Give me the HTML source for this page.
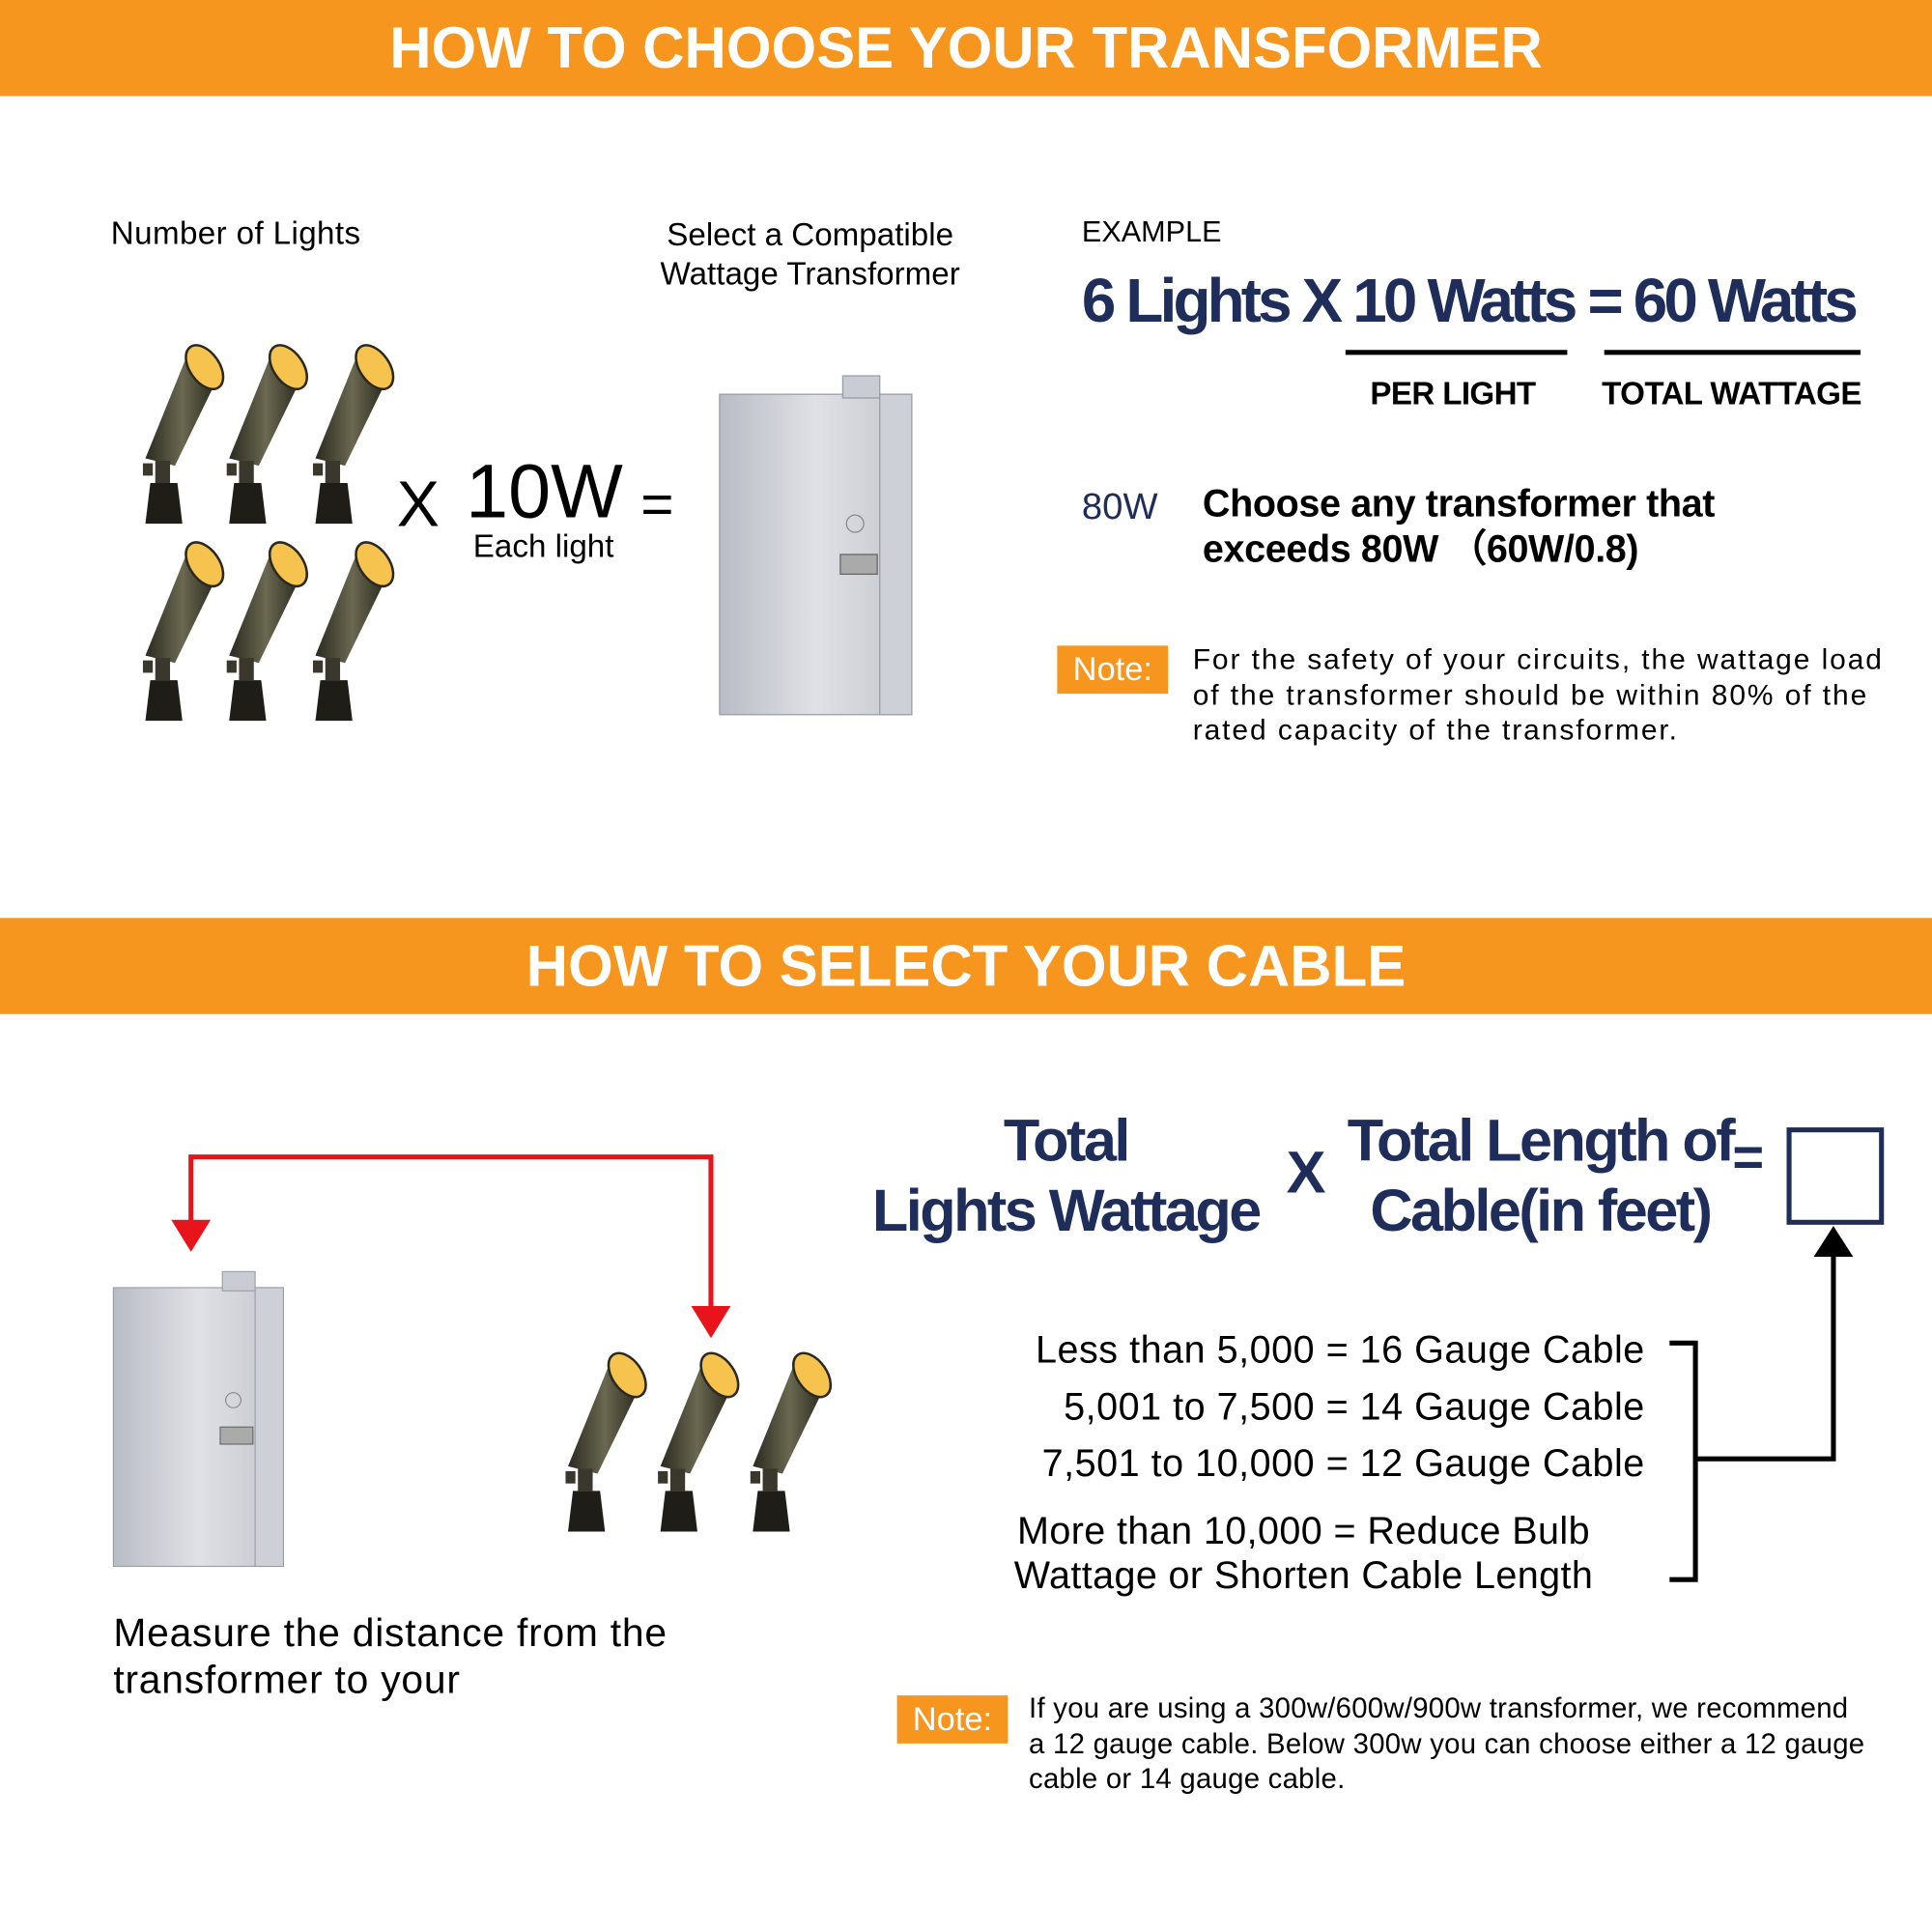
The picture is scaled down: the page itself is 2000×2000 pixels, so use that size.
<!DOCTYPE html>
<html><head><meta charset="utf-8"><style>
html,body{margin:0;padding:0;background:#fff;}
body{width:2000px;height:2000px;overflow:hidden;position:relative;}
#c{position:absolute;left:0;top:0;width:1568px;height:1568px;transform:scale(1.27551);transform-origin:0 0;font-family:"Liberation Sans",sans-serif;}
.a{position:absolute;white-space:nowrap;}
.ban{position:absolute;left:0;width:1568px;height:78px;background:#F7961E;color:#fff;font-weight:bold;font-size:47px;text-align:center;line-height:78px;}
.n{color:#1F2D5A;font-weight:bold;}
.note{position:absolute;width:90px;height:39px;background:#F7961E;color:#fff;font-size:27px;line-height:39px;text-align:center;}
</style></head><body><div id="c">
<div class="ban" style="top:0"><span style="display:inline-block;">HOW TO CHOOSE YOUR TRANSFORMER</span></div>
<div class="ban" style="top:745px"><span style="display:inline-block;">HOW TO SELECT YOUR CABLE</span></div>

<svg class="a" style="left:0;top:0" width="1568" height="1568">
<defs>
<linearGradient id="bd" x1="0" x2="1"><stop offset="0" stop-color="#2b2a20"/><stop offset="0.5" stop-color="#6a6850"/><stop offset="1" stop-color="#24231a"/></linearGradient>
<linearGradient id="sv" x1="0" x2="1"><stop offset="0" stop-color="#b9bcc4"/><stop offset="0.5" stop-color="#dfe1e6"/><stop offset="1" stop-color="#c3c6cc"/></linearGradient>
<g id="L">
<polygon points="6,92 30,98 66,24 40,8" fill="url(#bd)"/>
<ellipse cx="54" cy="18" rx="12" ry="20" transform="rotate(-35 54 18)" fill="#F6C44E" stroke="#2a2a20" stroke-width="2"/>
<rect x="14" y="94" width="12" height="18" fill="#3a382c"/>
<rect x="4" y="96" width="8" height="10" fill="#3a382c"/>
<polygon points="10,112 32,112 36,145 6,145" fill="#1e1d18"/>
</g>
<g id="T">
<rect x="0" y="15" width="156" height="260" fill="url(#sv)" stroke="#9a9da4"/>
<rect x="100" y="0" width="30" height="18" fill="#c9ccd2" stroke="#9a9da4"/>
<rect x="130" y="15" width="26" height="260" fill="#cdd0d6" stroke="#9a9da4"/>
<circle cx="110" cy="120" r="7" fill="none" stroke="#888"/>
<rect x="98" y="145" width="30" height="16" fill="#aaa" stroke="#666"/>
</g>
</defs>
<use href="#L" x="112" y="280"/><use href="#L" x="180" y="280"/><use href="#L" x="250" y="280"/>
<use href="#L" x="112" y="440"/><use href="#L" x="180" y="440"/><use href="#L" x="250" y="440"/>
<use href="#T" x="584" y="305"/>
<use href="#L" x="455" y="1098"/><use href="#L" x="530" y="1098"/><use href="#L" x="605" y="1098"/>
<g transform="translate(92 1032) scale(0.885 0.87)"><use href="#T"/></g>
<line x1="1092" y1="286" x2="1272" y2="286" stroke="#000" stroke-width="4"/>
<line x1="1302" y1="286" x2="1510" y2="286" stroke="#000" stroke-width="4"/>
<polyline points="155,995 155,939 577,939 577,1065" fill="none" stroke="#E8141B" stroke-width="4"/>
<polygon points="139,990 171,990 155,1016" fill="#E8141B"/>
<polygon points="561,1060 593,1060 577,1086" fill="#E8141B"/>
<rect x="1452" y="917" width="75" height="75" fill="none" stroke="#1F2D5A" stroke-width="4"/>
<polyline points="1355,1090 1376,1090 1376,1282 1355,1282" fill="none" stroke="#000" stroke-width="4"/>
<polyline points="1376,1184 1488,1184 1488,1015" fill="none" stroke="#000" stroke-width="4"/>
<polygon points="1472,1020 1504,1020 1488,995" fill="#000"/>
</svg>

<div class="a" style="left:90px;top:174px;font-size:26px;letter-spacing:0.3px;">Number of Lights</div>
<div class="a" style="left:520px;top:174px;width:275px;text-align:center;font-size:26px;line-height:32px;white-space:normal;">Select a Compatible Wattage Transformer</div>
<div class="a" style="left:878px;top:175px;font-size:24px;">EXAMPLE</div>
<div class="a n" style="left:878px;top:215px;font-size:50px;letter-spacing:-3px;">6 Lights X 10 Watts = 60 Watts</div>
<div class="a" style="left:1112px;top:304px;font-size:26px;font-weight:bold;letter-spacing:-0.5px;">PER LIGHT</div>
<div class="a" style="left:1300px;top:304px;font-size:26px;font-weight:bold;letter-spacing:-0.5px;">TOTAL WATTAGE</div>
<div class="a" style="left:878px;top:395px;font-size:30px;color:#1F2D5A;">80W</div>
<div class="a" style="left:976px;top:390px;font-size:31px;font-weight:bold;line-height:37px;letter-spacing:-0.3px;">Choose any transformer that<br>exceeds 80W （60W/0.8)</div>
<div class="note" style="left:858px;top:524px;">Note:</div>
<div class="a" style="left:968px;top:521px;font-size:23.5px;line-height:28.5px;letter-spacing:1.5px;">For the safety of your circuits, the wattage load<br>of the transformer should be within 80% of the<br>rated capacity of the transformer.</div>
<div class="a" style="left:322px;top:380px;font-size:52px;">X</div>
<div class="a" style="left:378px;top:364px;font-size:62px;">10W</div>
<div class="a" style="left:384px;top:428px;font-size:26px;">Each light</div>
<div class="a" style="left:520px;top:382px;font-size:46px;">=</div>

<div class="a n" style="left:700px;top:898px;width:330px;text-align:center;font-size:48px;line-height:57px;letter-spacing:-2px;white-space:normal;">Total<br>Lights Wattage</div>
<div class="a n" style="left:1044px;top:925px;font-size:48px;">X</div>
<div class="a n" style="left:1080px;top:898px;width:340px;text-align:center;font-size:48px;line-height:57px;letter-spacing:-2px;white-space:normal;">Total Length of<br>Cable(in feet)</div>
<div class="a n" style="left:1406px;top:915px;font-size:44px;">=</div>
<div class="a" style="left:780px;top:1073px;width:555px;text-align:right;font-size:31px;line-height:46px;letter-spacing:0.4px;font-weight:500;">Less than 5,000 = 16 Gauge Cable<br>5,001 to 7,500 = 14 Gauge Cable<br>7,501 to 10,000 = 12 Gauge Cable</div>
<div class="a" style="left:790px;top:1225px;width:536px;text-align:center;font-size:31px;line-height:36px;letter-spacing:0.3px;">More than 10,000 = Reduce Bulb<br>Wattage or Shorten Cable Length</div>
<div class="a" style="left:92px;top:1306px;font-size:32px;line-height:38px;letter-spacing:0.6px;">Measure the distance from the<br>transformer to your</div>
<div class="note" style="left:728px;top:1376px;">Note:</div>
<div class="a" style="left:835px;top:1372px;font-size:23px;line-height:28.5px;letter-spacing:0.2px;">If you are using a 300w/600w/900w transformer, we recommend<br>a 12 gauge cable. Below 300w you can choose either a 12 gauge<br>cable or 14 gauge cable.</div>
</div></body></html>
